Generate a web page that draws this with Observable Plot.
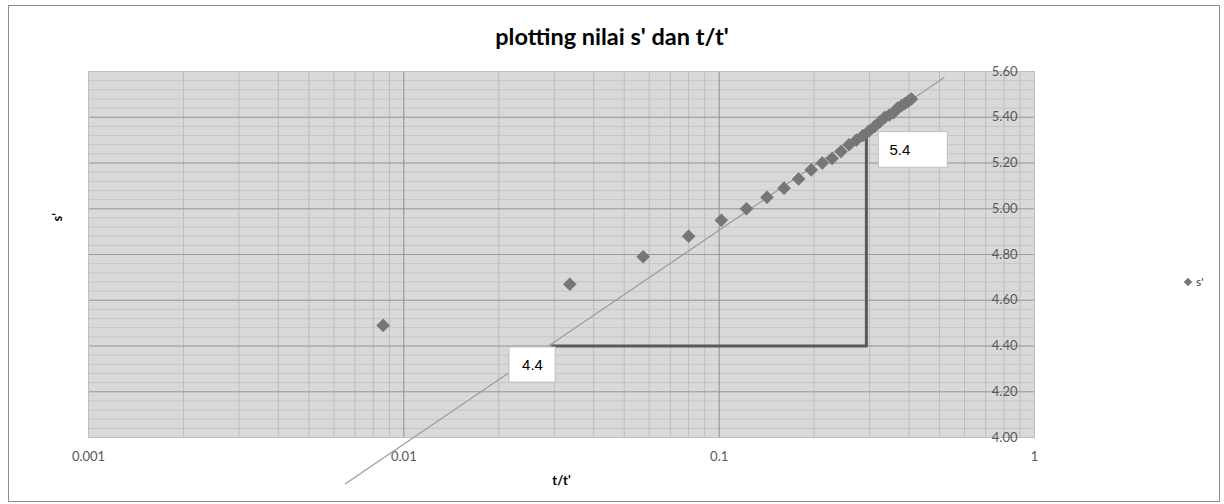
<!DOCTYPE html>
<html>
<head>
<meta charset="utf-8">
<script src="https://cdn.jsdelivr.net/npm/d3@7"></script>
<script src="https://cdn.jsdelivr.net/npm/@observablehq/plot@0.6"></script>
<style>
  html, body { margin: 0; padding: 0; background: #fff; }
  #wrap { position: relative; width: 1224px; height: 504px; font-family: Lato, "Open Sans", sans-serif; }
  #wrap svg { position: absolute; left: 0; top: 0; }
  #border { position: absolute; left: 8px; top: 5px; width: 1212px; height: 497px; border: 1px solid #8c8c8c; box-sizing: border-box; }
  #title { position: absolute; left: 0; top: 22px; width: 1224px; text-align: center; font-weight: bold; font-size: 23.5px; color: #000; }
  #legend { position: absolute; left: 1185px; top: 274px; font-size: 12px; color: #404040; display: flex; align-items: center; }
  #legend .m { width: 6px; height: 6px; background: #767676; transform: rotate(45deg); margin-right: 5px; }
</style>
</head>
<body>
<div id="wrap">
  <div id="border"></div>
  <div id="title">plotting nilai s' dan t/t'</div>
  <div id="legend"><span class="m"></span><span>s'</span></div>
</div>
<script>
// observed points: t/t' and s'
const tRatio = [0.0086, 0.0336, 0.0574, 0.0800, 0.1016, 0.1221, 0.1418, 0.1606, 0.1786, 0.1958,
                0.2123, 0.2282, 0.2434, 0.2581, 0.2722, 0.2857, 0.2988, 0.3114, 0.3235, 0.3353,
                0.3466, 0.3575, 0.3681, 0.3784, 0.3883, 0.3979, 0.4072];
const sPrime = [4.49, 4.67, 4.79, 4.88, 4.95, 5.00, 5.05, 5.09, 5.13, 5.17,
                5.20, 5.22, 5.25, 5.28, 5.30, 5.32, 5.34, 5.36, 5.38, 5.40,
                5.41, 5.42, 5.44, 5.45, 5.46, 5.47, 5.48];
// logarithmic trendline ends
const trendX = [0.00653, 0.516];
const trendY = [3.798, 5.573];
// slope triangle drawn on the chart
const slopeX = [0.0296, 0.293, 0.293];
const slopeY = [4.40, 4.40, 5.32];
// annotation boxes
const boxText = ["4.4", "5.4"];
const boxX1 = [0.02163, 0.3209];
const boxX2 = [0.0303, 0.531];
const boxY1 = [4.240, 5.179];
const boxY2 = [4.3935, 5.3348];
const boxTextX = [0.02559, 0.3469];
const boxTextY = [4.317, 5.258];
// axis ticks
const xTicks = [0.001, 0.01, 0.1, 1];
const xTickLabels = ["0.001", "0.01", "0.1", "1"];
const yTicks = [4.0, 4.2, 4.4, 4.6, 4.8, 5.0, 5.2, 5.4, 5.6];
const yTickLabels = ["4.00", "4.20", "4.40", "4.60", "4.80", "5.00", "5.20", "5.40", "5.60"];

const points = tRatio.map((x, i) => ({x, y: sPrime[i]}));
const trend = trendX.map((x, i) => ({x, y: trendY[i]}));
const slope = slopeX.map((x, i) => ({x, y: slopeY[i]}));
const boxes = boxText.map((t, i) => ({t, x1: boxX1[i], x2: boxX2[i], y1: boxY1[i], y2: boxY2[i], tx: boxTextX[i], ty: boxTextY[i]}));
const xt = xTicks.map((v, i) => ({v, label: xTickLabels[i]}));
const yt = yTicks.map((v, i) => ({v, label: yTickLabels[i]}));

const yMinor = d3.range(0, 41).map(i => 4 + i * 0.04);
const xMinor = [];
for (const dec of [0.001, 0.01, 0.1]) for (let k = 2; k <= 9; k++) xMinor.push(k * dec);

const boxFont = "'Liberation Sans', Arial, sans-serif";

const chart = Plot.plot({
  width: 1224,
  height: 504,
  marginLeft: 88,
  marginRight: 190,
  marginTop: 71,
  marginBottom: 67,
  style: {background: "transparent", fontFamily: "Lato, 'Open Sans', sans-serif"},
  x: {type: "log", domain: [0.001, 1], axis: null},
  y: {domain: [4, 5.6], axis: null},
  marks: [
    Plot.frame({fill: "#d9d9d9", stroke: null}),
    Plot.ruleY(yMinor, {stroke: "#c6c6c6", strokeWidth: 1}),
    Plot.ruleX(xMinor, {stroke: "#bdbdbd", strokeWidth: 1}),
    Plot.ruleY(yTicks, {stroke: "#9c9c9c", strokeWidth: 1}),
    Plot.ruleX(xTicks, {stroke: "#8f8f8f", strokeWidth: 1}),
    Plot.frame({stroke: "#bfbfbf"}),
    Plot.text(yt, {y: "v", text: "label", frameAnchor: "right", textAnchor: "end", dx: -17, fill: "#595959", fontSize: 13}),
    Plot.text(xt, {x: "v", text: "label", frameAnchor: "bottom", dy: 23, fill: "#595959", fontSize: 13}),
    Plot.text(["t/t'"], {frameAnchor: "bottom", dy: 47, fontWeight: "bold", fontSize: 13, fill: "#000"}),
    Plot.text(["s'"], {frameAnchor: "left", dx: -31, dy: -33, rotate: -90, fontWeight: "bold", fontSize: 13, fill: "#000"}),
    Plot.line(trend, {x: "x", y: "y", stroke: "#9e9e9e", strokeWidth: 1.3}),
    Plot.line(slope, {x: "x", y: "y", stroke: "#5a5a5a", strokeWidth: 3}),
    Plot.dot(points, {x: "x", y: "y", symbol: "diamond2", r: 5.9, fill: "#767676", stroke: "#767676", strokeWidth: 0.5}),
    Plot.rect(boxes, {x1: "x1", x2: "x2", y1: "y1", y2: "y2", fill: "#fff", stroke: "#bfbfbf", strokeWidth: 1}),
    Plot.text(boxes.filter(d => d.t === "4.4"), {x: "tx", y: "ty", text: "t", textAnchor: "middle", fontSize: 15, fill: "#000", fontFamily: boxFont}),
    Plot.text(boxes.filter(d => d.t === "5.4"), {x: "tx", y: "ty", text: "t", textAnchor: "start", fontSize: 15, fill: "#000", fontFamily: boxFont})
  ]
});
document.getElementById("wrap").appendChild(chart);
</script>
</body>
</html>
